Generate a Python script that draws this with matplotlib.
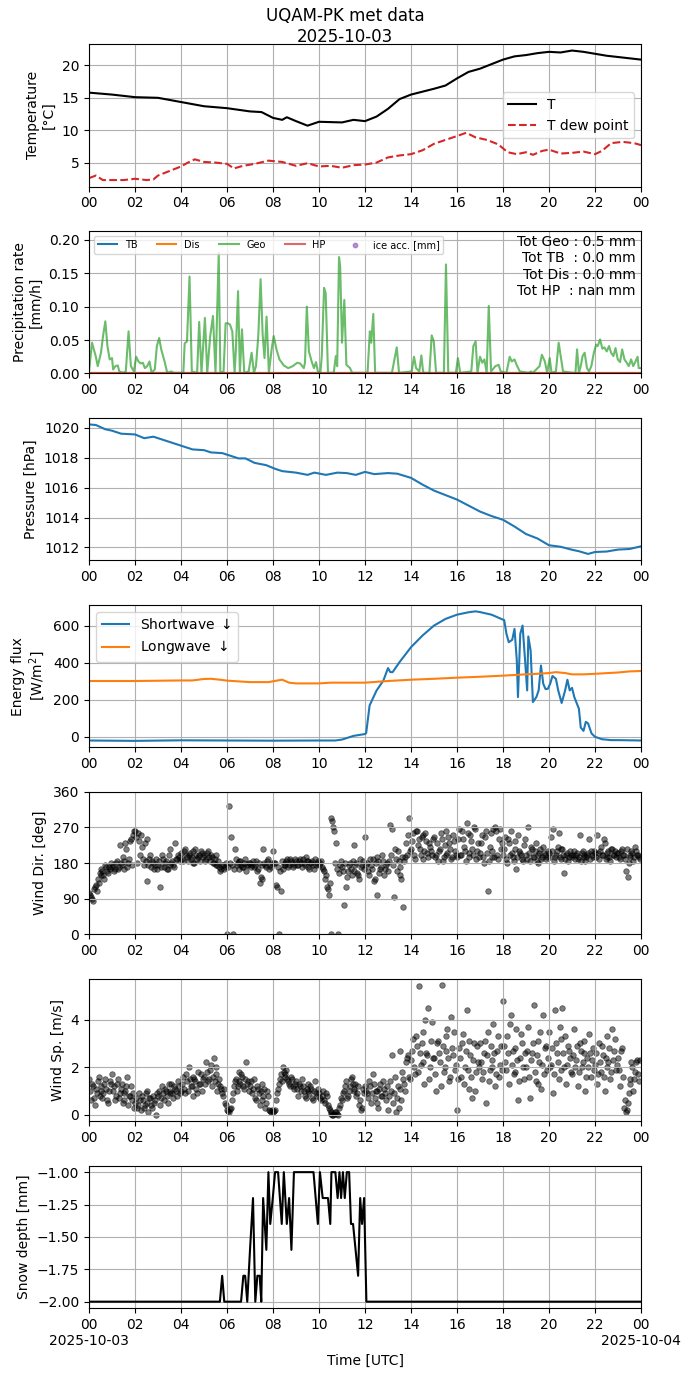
import numpy as np
import pandas as pd
import matplotlib
matplotlib.use('Agg')
from matplotlib import pyplot as plt
import matplotlib.dates as mdates
from matplotlib.ticker import FuncFormatter

day = pd.Timestamp('2025-10-03')

# Temperature (hours, degC)
t_hours = [0, 1, 2, 3, 4, 5, 6, 7, 7.5, 8, 8.4, 8.6, 9, 9.5, 10, 11, 11.5, 12, 12.5, 13, 13.5,
           14, 15, 15.5, 16, 16.5, 17, 17.5, 18, 18.5, 19, 19.5, 20, 20.5, 21, 21.5, 22, 22.5,
           23, 23.5, 24]
temp = [15.8, 15.5, 15.1, 15.0, 14.35, 13.7, 13.4, 12.9, 12.8, 11.9, 11.6, 12.0, 11.4, 10.7,
        11.3, 11.2, 11.6, 11.4, 12.1, 13.3, 14.8, 15.5, 16.4, 16.9, 18.0, 19.0, 19.5, 20.2,
        20.9, 21.4, 21.6, 21.9, 22.1, 22.0, 22.3, 22.1, 21.8, 21.5, 21.3, 21.1, 20.9]
td_hours = [0, 0.3, 0.6, 1, 1.5, 2, 2.5, 2.8, 3, 3.5, 4, 4.3, 4.6, 5, 5.5, 6, 6.3, 6.7, 7.2,
            7.8, 8.4, 9, 9.5, 10, 10.5, 11, 11.5, 12, 12.5, 13, 13.5, 14, 14.5, 15, 15.5, 16,
            16.4, 16.8, 17.3, 17.8, 18.2, 18.6, 19, 19.3, 19.7, 20, 20.5, 21, 21.5, 22, 22.3,
            22.7, 23.2, 23.7, 24]
dewpoint = [2.6, 3.0, 2.3, 2.3, 2.3, 2.5, 2.3, 2.4, 3.0, 3.7, 4.4, 5.0, 5.5, 5.1, 5.0, 4.8,
            4.1, 4.5, 4.8, 5.3, 5.1, 4.5, 4.9, 4.4, 4.5, 4.2, 4.6, 4.7, 5.0, 5.8, 6.1, 6.3,
            6.9, 7.9, 8.5, 9.1, 9.6, 8.9, 8.5, 7.8, 6.6, 6.3, 6.6, 6.2, 6.8, 7.0, 6.4, 6.5,
            6.7, 6.3, 6.8, 8.0, 8.2, 8.0, 7.7]

# Precipitation rate, Geonor (mm/h)
geo_hours = [0, 0.13, 0.29, 0.38, 0.52, 0.61, 0.71, 0.8, 0.9, 1.0, 1.05, 1.15, 1.25, 1.32, 1.48,
             1.6, 1.72, 1.82, 1.95, 2.05, 2.15, 2.25, 2.34, 2.43, 2.53, 2.63, 2.72, 2.86, 2.95,
             3.05, 3.14, 3.3, 3.4, 3.58, 3.68, 4.1, 4.16, 4.26, 4.37, 4.47, 4.7, 4.79, 4.89,
             5.04, 5.14, 5.27, 5.39, 5.5, 5.58, 5.64, 5.71, 5.85, 5.94, 6.04, 6.13, 6.23, 6.33,
             6.38, 6.48, 6.56, 6.65, 6.75, 6.94, 7.07, 7.17, 7.26, 7.36, 7.46, 7.55, 7.63, 7.72,
             7.82, 7.94, 8.03, 8.15, 8.28, 8.47, 8.66, 8.86, 9.05, 9.18, 9.34, 9.39, 9.47, 9.56,
             9.68, 9.78, 9.87, 9.95, 10.06, 10.12, 10.22, 10.29, 10.39, 10.64, 10.73, 10.79,
             10.87, 10.92, 11.0, 11.1, 11.19, 11.35, 11.44, 12.11, 12.21, 12.27, 12.36, 12.44,
             13.17, 13.38, 13.48, 14.03, 14.13, 14.22, 14.36, 14.45, 14.53, 14.8, 14.9, 14.99,
             15.09, 15.43, 15.52, 15.62, 15.95, 16.04, 16.14, 16.62, 16.71, 16.81, 16.89, 17.0,
             17.1, 17.19, 17.29, 17.38, 17.48, 17.67, 17.81, 17.9, 18.15, 18.29, 18.38, 18.5,
             18.59, 18.73, 19.11, 19.21, 19.3, 19.59, 19.69, 19.82, 19.92, 20.03, 20.11, 20.3,
             20.42, 20.51, 20.61, 21.03, 21.15, 21.22, 21.3, 21.38, 21.46, 21.55, 21.65, 21.74,
             21.84, 21.95, 22.05, 22.12, 22.22, 22.32, 22.41, 22.51, 22.61, 22.7, 22.8, 22.89,
             22.99, 23.09, 23.18, 23.28, 23.38, 23.47, 23.57, 23.66, 23.76, 23.85, 23.9, 24]
geo_rate = [0.003, 0.046, 0.026, 0.011, 0.031, 0.056, 0.078, 0.041, 0.021, 0.023, 0.006, 0.011,
            0.012, 0.003, 0.001, 0.003, 0.063, 0.011, 0.003, 0.025, 0.018, 0.015, 0.016, 0.008,
            0.011, 0.018, 0.001, 0.006, 0.041, 0.053, 0.036, 0.016, 0.001, 0.003, 0.001, 0.001,
            0.045, 0.048, 0.145, 0.003, 0.001, 0.077, 0.001, 0.083, 0.001, 0.056, 0.086, 0.001,
            0.105, 0.18, 0.001, 0.003, 0.075, 0.075, 0.073, 0.063, 0.001, 0.031, 0.123, 0.001,
            0.066, 0.001, 0.003, 0.031, 0.001, 0.011, 0.056, 0.141, 0.058, 0.023, 0.085, 0.001,
            0.036, 0.056, 0.036, 0.021, 0.012, 0.008, 0.011, 0.016, 0.015, 0.008, 0.016, 0.1,
            0.033, 0.018, 0.008, 0.017, 0.003, 0.001, 0.026, 0.128, 0.12, 0.001, 0.001, 0.026,
            0.011, 0.174, 0.16, 0.046, 0.11, 0.013, 0.008, 0.001, 0.001, 0.063, 0.046, 0.089,
            0.001, 0.001, 0.039, 0.001, 0.003, 0.025, 0.008, 0.003, 0.027, 0.001, 0.001, 0.057,
            0.048, 0.001, 0.001, 0.163, 0.001, 0.001, 0.023, 0.001, 0.003, 0.041, 0.048, 0.001,
            0.025, 0.016, 0.021, 0.001, 0.101, 0.003, 0.011, 0.013, 0.003, 0.001, 0.025, 0.018,
            0.021, 0.013, 0.003, 0.001, 0.003, 0.001, 0.011, 0.028, 0.018, 0.001, 0.023, 0.001,
            0.003, 0.046, 0.026, 0.003, 0.001, 0.001, 0.036, 0.001, 0.011, 0.026, 0.031, 0.008,
            0.003, 0.011, 0.031, 0.043, 0.041, 0.051, 0.037, 0.039, 0.033, 0.041, 0.031, 0.026,
            0.038, 0.021, 0.017, 0.036, 0.021, 0.016, 0.011, 0.021, 0.011, 0.018, 0.025, 0.008,
            0.008]
zero_hours = [0, 24]
tb_rate = [0.0, 0.0]
dis_rate = [0.0, 0.0]
hp_rate = [0.0, 0.0]
totals_text = 'Tot Geo : 0.5 mm\nTot TB  : 0.0 mm\nTot Dis : 0.0 mm\nTot HP  : nan mm'

# Pressure (hPa)
p_hours = [0, 0.3, 0.7, 1, 1.4, 2, 2.4, 2.8, 3.2, 3.6, 4, 4.5, 5, 5.3, 5.8, 6.2, 6.5, 6.8, 7.2,
           7.7, 8.1, 8.4, 9, 9.5, 9.8, 10.3, 10.8, 11.2, 11.6, 12, 12.4, 13, 13.4, 14, 14.5, 15,
           15.5, 16, 16.5, 17, 17.5, 18, 18.5, 19, 19.5, 20, 20.5, 21, 21.3, 21.7, 22, 22.5, 23,
           23.5, 24]
pressure = [1020.22, 1020.18, 1019.9, 1019.8, 1019.6, 1019.55, 1019.3, 1019.4, 1019.2, 1019.0,
            1018.8, 1018.55, 1018.5, 1018.35, 1018.3, 1018.1, 1017.95, 1017.95, 1017.65, 1017.5,
            1017.25, 1017.1, 1017.0, 1016.85, 1017.0, 1016.85, 1017.0, 1016.97, 1016.85, 1017.05,
            1016.9, 1016.97, 1016.93, 1016.65, 1016.2, 1015.8, 1015.5, 1015.2, 1014.8, 1014.4,
            1014.1, 1013.85, 1013.4, 1012.9, 1012.6, 1012.15, 1012.05, 1011.85, 1011.75, 1011.57,
            1011.7, 1011.73, 1011.86, 1011.9, 1012.08]

# Radiation (W/m2)
sw_hours = [0, 2, 4, 6, 8, 10, 10.7, 11, 11.5, 12, 12.05, 12.2, 12.5, 12.8, 13, 13.1, 13.2, 13.5,
            14, 14.5, 15, 15.5, 16, 16.5, 16.8, 17, 17.5, 18, 18.05, 18.15, 18.25, 18.4, 18.5,
            18.6, 18.65, 18.75, 18.85, 18.95, 19.05, 19.1, 19.2, 19.3, 19.45, 19.55, 19.65,
            19.75, 19.85, 19.95, 20.05, 20.15, 20.3, 20.4, 20.55, 20.7, 20.8, 20.9, 21, 21.1,
            21.3, 21.38, 21.5, 21.6, 21.7, 21.85, 22, 22.3, 22.7, 23, 24]
shortwave = [-20, -22, -19, -20, -21, -20, -20, -15, 5, 15, 20, 170, 250, 305, 372, 350, 350, 404,
             485, 548, 602, 638, 661, 674, 679, 675, 661, 634, 632, 557, 512, 525, 584, 413, 215,
             557, 602, 431, 251, 543, 467, 188, 215, 251, 386, 287, 258, 260, 287, 329, 314, 251,
             183, 251, 309, 251, 265, 215, 152, 50, 32, 81, 72, 18, 0, -13, -18, -18, -20]
lw_hours = [0, 2, 4, 4.5, 5, 5.3, 5.7, 6, 7, 7.8, 8.2, 8.4, 8.7, 9, 10, 10.5, 11, 12, 13, 14, 15,
            16, 17, 18, 19, 19.5, 20, 20.3, 20.7, 21, 21.5, 22, 23, 23.5, 24]
longwave = [302, 302, 305, 305, 313, 314, 309, 304, 296, 296, 305, 309, 293, 289, 289, 293, 293,
            293, 302, 309, 314, 320, 325, 331, 338, 341, 345, 350, 345, 338, 338, 341, 348, 354,
            356]

# Wind direction (deg), one row per hour, 5-min samples
wdir_rows = [
    [105, 95, 85, 120, 110, 130, 150, 160, 140, 170, 155, 165],
    [170, 160, 180, 165, 225, 175, 185, 230, 170, 190, 240, 250],
    [260, 180, 235, 250, 190, 230, 135, 175, 200, 185, 165, 190],
    [175, 120, 200, 170, 185, 165, 215, 180, 175, 230, 190, 195],
    [205, 185, 215, 195, 200, 190, 210, 180, 200, 195, 185, 205],
    [200, 190, 210, 185, 195, 180, 200, 175, 170, 165, 175, 170],
    [0, 325, 245, 0, 215, 175, 165, 185, 170, 180, 160, 175],
    [180, 175, 170, 185, 165, 130, 140, 215, 175, 185, 165, 170],
    [210, 180, 120, 0, 110, 165, 175, 185, 170, 190, 180, 175],
    [185, 175, 190, 170, 180, 195, 185, 165, 180, 175, 190, 180],
    [175, 185, 165, 140, 120, 100, 0, 285, 260, 230, 0, 175],
    [170, 75, 120, 160, 180, 150, 225, 175, 155, 140, 170, 185],
    [245, 180, 150, 175, 190, 140, 100, 185, 165, 200, 150, 175],
    [160, 275, 265, 95, 190, 210, 170, 140, 70, 195, 200, 295],
    [215, 255, 190, 260, 240, 200, 250, 210, 235, 195, 220, 200],
    [245, 200, 185, 215, 240, 195, 260, 205, 230, 190, 250, 210],
    [195, 265, 200, 240, 210, 280, 195, 250, 215, 270, 190, 230],
    [205, 250, 180, 260, 110, 220, 195, 265, 270, 200, 240, 215],
    [200, 245, 180, 230, 260, 195, 215, 165, 250, 205, 190, 225],
    [200, 270, 185, 215, 195, 230, 180, 205, 190, 220, 200, 195],
    [205, 245, 265, 195, 210, 255, 190, 215, 155, 200, 185, 210],
    [195, 210, 200, 190, 250, 205, 195, 185, 200, 240, 210, 195],
    [205, 250, 190, 220, 200, 230, 195, 210, 185, 215, 200, 195],
    [205, 190, 215, 200, 160, 145, 195, 210, 185, 220, 200, 195],
]
# second reading of the same cloud, 2.5 min later in each slot
wdir_rows_b = [
    [100, 90, 115, 125, 140, 155, 165, 150, 175, 160, 170, 180],
    [175, 165, 185, 170, 180, 195, 165, 215, 180, 235, 175, 260],
    [245, 255, 200, 220, 175, 185, 240, 190, 170, 180, 175, 165],
    [185, 170, 190, 180, 165, 200, 175, 185, 170, 190, 200, 185],
    [190, 210, 200, 185, 205, 195, 180, 215, 190, 200, 210, 195],
    [185, 205, 195, 200, 180, 190, 175, 185, 160, 175, 165, 180],
    [170, 180, 175, 165, 190, 180, 185, 175, 170, 190, 175, 180],
    [170, 185, 175, 160, 180, 145, 175, 180, 170, 190, 175, 180],
    [180, 125, 170, 160, 185, 175, 180, 190, 175, 185, 170, 190],
    [175, 185, 180, 190, 175, 185, 170, 180, 185, 165, 175, 185],
    [180, 170, 160, 150, 115, 130, 295, 270, 180, 165, 155, 185],
    [160, 180, 145, 175, 165, 185, 160, 180, 150, 190, 175, 165],
    [175, 160, 190, 165, 135, 180, 195, 155, 170, 185, 165, 180],
    [185, 200, 175, 215, 160, 185, 150, 195, 185, 230, 250, 210],
    [235, 200, 260, 225, 215, 245, 190, 255, 205, 230, 210, 240],
    [195, 230, 210, 255, 185, 225, 200, 245, 215, 195, 235, 200],
    [240, 200, 260, 220, 185, 255, 205, 235, 200, 265, 210, 195],
    [230, 195, 245, 205, 185, 255, 210, 195, 260, 190, 265, 230],
    [215, 190, 240, 200, 205, 185, 235, 195, 210, 200, 185, 240],
    [190, 205, 220, 195, 210, 185, 200, 215, 195, 205, 190, 210],
    [195, 210, 185, 200, 220, 195, 215, 200, 190, 205, 195, 200],
    [200, 190, 205, 195, 185, 210, 200, 195, 205, 190, 200, 210],
    [195, 205, 210, 200, 240, 190, 205, 195, 215, 200, 210, 205],
    [195, 210, 200, 190, 215, 180, 200, 205, 195, 210, 200, 190],
]

# Wind speed (m/s), one row per hour, 5-min samples
wspd_rows = [
    [1.5, 0.6, 1.2, 0.4, 0.9, 1.6, 1.0, 0.7, 1.3, 1.1, 0.5, 1.4],
    [1.7, 1.2, 0.8, 1.5, 0.9, 1.3, 0.6, 1.0, 1.6, 0.8, 1.2, 0.9],
    [0.5, 0.3, 0.9, 0.2, 0.6, 0.4, 1.0, 0.1, 0.7, 0.3, 0.5, 0.0],
    [0.8, 0.4, 1.2, 0.6, 1.0, 0.5, 0.9, 1.3, 0.7, 1.1, 0.8, 1.2],
    [1.0, 1.6, 0.9, 1.4, 2.0, 1.2, 0.8, 1.5, 1.1, 1.8, 1.3, 1.0],
    [1.6, 2.2, 1.4, 1.9, 1.2, 2.4, 1.7, 1.0, 1.5, 1.1, 0.8, 0.5],
    [0.2, 0.1, 0.3, 0.9, 1.4, 1.0, 1.8, 1.3, 1.6, 1.1, 2.2, 1.4],
    [1.2, 0.9, 1.5, 0.6, 1.1, 0.4, 1.3, 0.8, 0.3, 1.0, 0.2, 0.1],
    [0.1, 0.2, 0.9, 1.3, 1.7, 2.0, 1.6, 1.9, 1.4, 1.2, 1.5, 1.1],
    [1.4, 0.8, 1.2, 1.5, 1.0, 0.7, 1.3, 0.9, 1.1, 0.6, 1.4, 0.8],
    [0.9, 0.6, 1.0, 0.5, 0.8, 0.3, 0.1, 0.0, 0.05, 0.1, 0.0, 0.4],
    [0.6, 1.0, 1.4, 0.8, 1.2, 1.6, 1.0, 1.3, 0.9, 0.4, 0.2, 1.1],
    [1.2, 0.9, 1.4, 0.5, 1.7, 0.7, 1.0, 0.3, 1.3, 0.8, 1.1, 0.6],
    [0.2, 1.4, 2.5, 0.9, 0.1, 1.2, 2.7, 0.6, 1.5, 1.0, 2.4, 1.6],
    [2.3, 3.2, 1.7, 2.9, 5.4, 2.1, 3.5, 1.3, 2.6, 4.5, 2.0, 3.9],
    [2.4, 1.0, 3.1, 2.2, 5.45, 1.8, 2.7, 3.6, 1.4, 4.1, 2.5, 1.9],
    [0.2, 2.8, 1.6, 3.4, 2.0, 4.4, 1.1, 2.5, 0.7, 3.0, 1.8, 2.2],
    [3.0, 1.5, 2.6, 0.5, 3.5, 1.9, 2.3, 3.8, 1.2, 2.7, 1.6, 2.9],
    [4.8, 2.2, 3.3, 1.3, 4.2, 2.7, 1.8, 3.6, 0.6, 2.4, 3.0, 1.5],
    [2.0, 3.7, 0.7, 2.6, 4.6, 1.4, 3.1, 2.2, 1.1, 4.2, 2.8, 1.9],
    [3.5, 2.1, 0.9, 4.4, 2.6, 1.5, 3.2, 4.5, 2.0, 1.3, 2.9, 2.4],
    [1.7, 3.6, 2.3, 1.2, 3.0, 2.0, 2.6, 1.0, 2.4, 3.4, 1.6, 2.8],
    [2.1, 1.3, 3.0, 1.8, 2.5, 1.0, 3.3, 2.2, 1.5, 3.6, 2.7, 1.9],
    [2.4, 1.2, 2.8, 0.3, 0.1, 0.5, 1.5, 2.2, 1.0, 1.8, 2.3, 1.4],
]
wspd_rows_b = [
    [1.0, 1.3, 0.7, 1.1, 1.4, 0.8, 1.2, 0.9, 1.5, 0.6, 1.0, 1.3],
    [1.0, 0.6, 1.3, 0.7, 1.1, 0.5, 0.9, 1.2, 0.4, 0.8, 0.6, 0.3],
    [0.7, 0.4, 0.6, 0.8, 0.3, 0.9, 0.5, 0.7, 0.4, 0.8, 0.6, 0.9],
    [1.0, 0.7, 0.9, 1.1, 0.8, 1.3, 1.0, 0.9, 1.2, 1.0, 1.4, 0.9],
    [1.3, 1.1, 1.7, 1.0, 1.5, 1.2, 1.6, 1.4, 0.9, 1.3, 1.7, 1.5],
    [1.3, 1.8, 1.5, 2.1, 1.6, 1.4, 2.0, 1.3, 1.2, 0.9, 1.1, 0.4],
    [0.15, 0.25, 0.6, 1.2, 1.5, 1.2, 1.4, 1.7, 1.2, 1.5, 1.3, 1.0],
    [1.4, 1.1, 0.7, 1.2, 0.9, 1.0, 0.6, 1.1, 0.5, 0.8, 0.15, 0.2],
    [0.15, 0.6, 1.1, 1.5, 1.4, 1.8, 1.7, 1.5, 1.3, 1.6, 1.2, 1.3],
    [1.1, 1.3, 1.0, 1.2, 0.8, 1.1, 1.0, 1.2, 0.7, 1.0, 0.9, 1.1],
    [0.7, 0.8, 0.6, 0.9, 0.4, 0.2, 0.05, 0.0, 0.1, 0.05, 0.3, 0.7],
    [0.9, 1.2, 0.7, 1.0, 1.5, 1.3, 1.1, 0.8, 1.2, 0.6, 0.3, 0.9],
    [1.0, 0.7, 1.2, 0.9, 1.3, 1.0, 0.5, 1.1, 0.8, 1.4, 0.9, 1.2],
    [0.8, 1.0, 0.5, 1.6, 0.7, 0.3, 1.1, 1.8, 1.3, 2.2, 2.5, 1.5],
    [2.7, 2.0, 3.3, 1.8, 2.6, 3.0, 2.2, 4.0, 2.5, 1.5, 3.1, 2.4],
    [1.7, 3.0, 2.6, 1.2, 2.9, 2.0, 3.3, 2.4, 1.6, 2.8, 3.5, 2.1],
    [1.5, 2.4, 3.0, 1.3, 2.7, 1.9, 3.1, 1.6, 2.3, 1.0, 2.9, 2.0],
    [2.2, 1.8, 3.1, 2.5, 1.4, 2.9, 2.0, 2.6, 1.7, 3.3, 2.1, 1.9],
    [2.9, 1.9, 2.6, 3.8, 2.1, 1.7, 2.8, 2.3, 1.4, 3.4, 2.0, 2.6],
    [2.7, 1.6, 2.3, 3.0, 1.8, 2.5, 1.3, 3.5, 2.1, 1.7, 2.9, 2.4],
    [2.0, 2.8, 1.7, 3.0, 2.2, 3.7, 1.9, 2.6, 3.3, 2.1, 2.7, 1.8],
    [2.5, 2.0, 2.9, 1.8, 2.7, 2.2, 3.1, 1.6, 2.0, 2.6, 2.3, 1.9],
    [2.6, 1.7, 2.2, 2.9, 1.6, 2.4, 2.0, 2.8, 1.8, 2.3, 3.2, 2.1],
    [1.9, 2.7, 1.6, 0.6, 0.2, 0.9, 1.3, 2.0, 1.5, 2.2, 1.7, 2.3],
]

# Snow depth (mm)
sd_hours = [0, 5.69, 5.79, 5.88, 6.61, 6.71, 6.79, 6.88, 7.0, 7.13, 7.23, 7.32, 7.42, 7.49, 7.57,
            7.71, 7.8, 7.88, 7.99, 8.09, 8.22, 8.38, 8.47, 8.6, 8.7, 8.8, 8.91, 9.76, 9.95,
            10.04, 10.16, 10.39, 10.49, 10.54, 10.71, 10.81, 10.89, 10.96, 11.04, 11.12, 11.21,
            11.31, 11.39, 11.48, 11.7, 11.79, 11.87, 11.96, 12.06, 24]
snow_depth = [-2.0, -2.0, -1.8, -2.0, -2.0, -1.8, -1.8, -2.0, -1.6, -1.2, -2.0, -1.8, -1.8, -2.0,
              -1.2, -1.6, -1.0, -1.4, -1.2, -1.0, -1.0, -1.4, -1.0, -1.4, -1.2, -1.6, -1.0,
              -1.0, -1.4, -1.0, -1.2, -1.2, -1.4, -1.0, -1.0, -1.2, -1.0, -1.2, -1.0, -1.2,
              -1.0, -1.0, -1.4, -1.4, -1.8, -1.2, -1.4, -1.2, -2.0, -2.0]


def to_time(hours):
    return day + pd.to_timedelta(np.asarray(hours, dtype=float), unit='h')


def row_times(rows, offset_min=0.0):
    hrs = [h + (k * 5 + offset_min) / 60 for h, r in enumerate(rows) for k in range(len(r))]
    return to_time(hrs)


fig, axes = plt.subplots(7, 1, figsize=(6.9, 13.77), dpi=100)
fig.subplots_adjust(left=0.129, right=0.929, top=0.968, bottom=0.05, hspace=0.312)
fig.suptitle('UQAM-PK met data\n2025-10-03', fontsize=12, y=0.995)

ax = axes[0]
ax.plot(to_time(t_hours), temp, color='k', lw=1.5, label='T')
ax.plot(to_time(td_hours), dewpoint, color='tab:red', ls='--', lw=1.5, label='T dew point')
ax.set_ylabel('Temperature\n[°C]')
ax.legend(loc='center right')

ax = axes[1]
ax.plot(to_time(zero_hours), tb_rate, color='tab:blue', label='TB')
ax.plot(to_time(zero_hours), dis_rate, color='tab:orange', label='Dis')
ax.plot(to_time(geo_hours), geo_rate, color='tab:green', alpha=0.7, lw=1.5, label='Geo')
ax.plot(to_time(zero_hours), hp_rate, color='tab:red', alpha=0.7, label='HP')
ax.scatter([], [], color='tab:purple', alpha=0.7, s=10, label='ice acc. [mm]')
ax.set_ylim(0, 0.213)
ax.set_ylabel('Precipitation rate\n[mm/h]')
ax.legend(loc='upper left', ncol=5, fontsize=7)
ax.text(0.99, 0.97, totals_text, transform=ax.transAxes, ha='right', va='top',
        fontsize=10, multialignment='right')

ax = axes[2]
ax.plot(to_time(p_hours), pressure, color='tab:blue', lw=1.5)
ax.set_ylabel('Pressure [hPa]')

ax = axes[3]
ax.plot(to_time(sw_hours), shortwave, color='tab:blue', lw=1.5, label='Shortwave $\\downarrow$')
ax.plot(to_time(lw_hours), longwave, color='tab:orange', lw=1.5, label='Longwave $\\downarrow$')
ax.set_ylabel('Energy flux\n[W/m$^2$]')
ax.legend(loc='upper left')

ax = axes[4]
for rows, off in [(wdir_rows, 0.0), (wdir_rows_b, 2.5)]:
    ax.scatter(row_times(rows, off), np.concatenate(rows), color='k', alpha=0.5, s=16,
               linewidths=0.6)
ax.set_ylim(0, 360)
ax.set_yticks([0, 90, 180, 270, 360])
ax.set_ylabel('Wind Dir. [deg]')

ax = axes[5]
for rows, off in [(wspd_rows, 0.0), (wspd_rows_b, 2.5)]:
    ax.scatter(row_times(rows, off), np.concatenate(rows), color='k', alpha=0.5, s=16,
               linewidths=0.6)
ax.set_ylabel('Wind Sp. [m/s]')

ax = axes[6]
ax.plot(to_time(sd_hours), snow_depth, color='k', lw=1.5)
ax.set_ylabel('Snow depth [mm]')
ax.set_xlabel('Time [UTC]')

for ax in axes:
    ax.set_xlim(day, day + pd.Timedelta(hours=24))
    ax.xaxis.set_major_locator(mdates.HourLocator(byhour=range(0, 24, 2)))
    ax.xaxis.set_major_formatter(mdates.DateFormatter('%H'))
    ax.grid(True)


def last_fmt(x, pos):
    d = mdates.num2date(x)
    if d.hour == 0:
        return d.strftime('%H\n%Y-%m-%d')
    return d.strftime('%H')


axes[6].xaxis.set_major_formatter(FuncFormatter(last_fmt))

fig.savefig('out.png', dpi=100)
